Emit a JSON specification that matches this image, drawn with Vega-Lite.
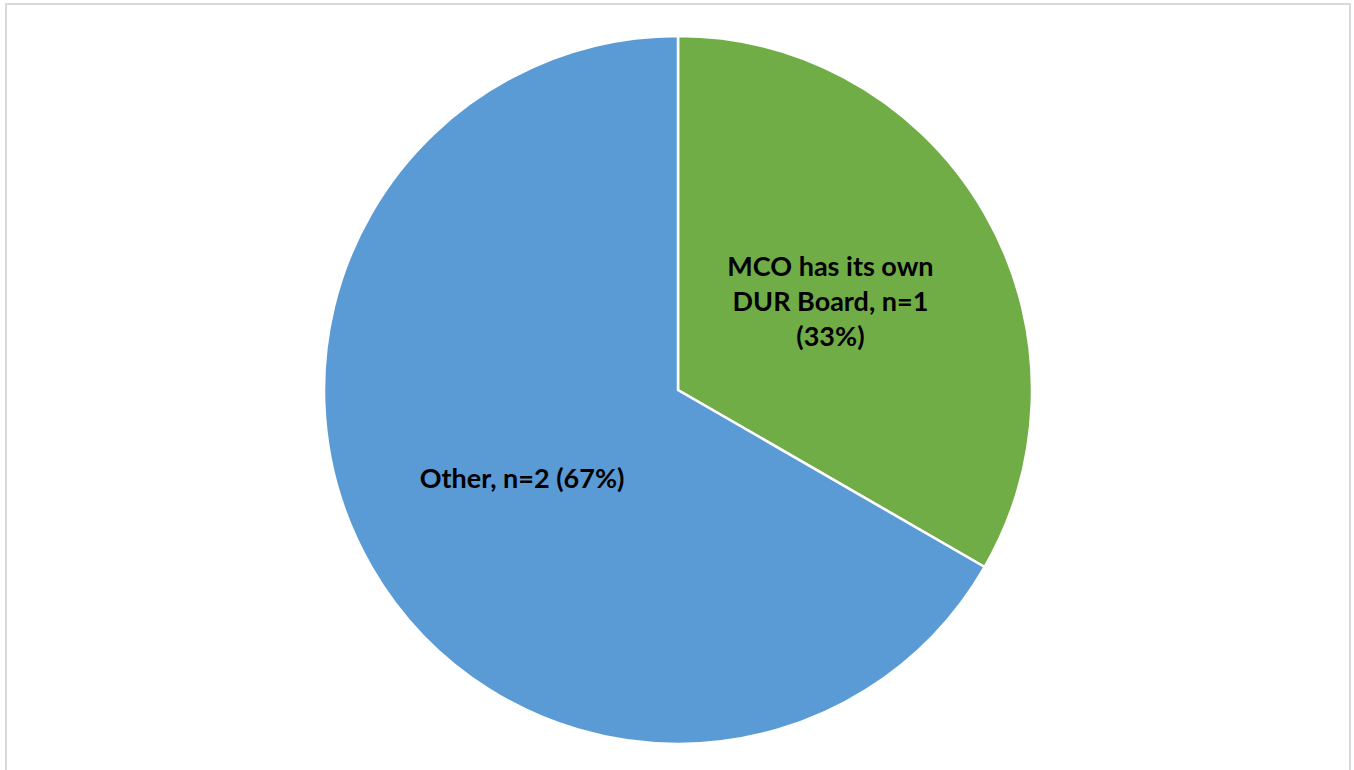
{
  "$schema": "https://vega.github.io/schema/vega-lite/v6.json",
  "autosize": {"type": "none"},
  "width": 1344,
  "height": 772,
  "padding": {"left": 6, "top": 4, "right": 4, "bottom": 0},
  "background": "white",
  "config": {"view": {"stroke": null}},
  "data": {
    "values": [
      {"category": "MCO has its own DUR Board", "n": 1, "label": "MCO has its own\nDUR Board, n=1\n(33%)", "order": 1},
      {"category": "Other", "n": 2, "label": "Other, n=2 (67%)", "order": 2}
    ]
  },
  "layer": [
    {
      "mark": {"type": "rect", "filled": false, "stroke": "#d9d9d9", "strokeWidth": 2},
      "encoding": {}
    },
    {
      "mark": {"type": "arc", "outerRadius": 354, "stroke": "white", "strokeWidth": 2.5},
      "encoding": {
        "theta": {"field": "n", "type": "quantitative", "stack": true},
        "order": {"field": "order", "type": "quantitative"},
        "color": {
          "field": "category",
          "type": "nominal",
          "scale": {"domain": ["MCO has its own DUR Board", "Other"], "range": ["#70AD47", "#5B9BD5"]},
          "legend": null
        }
      }
    },
    {
      "mark": {"type": "text", "radius": 176, "dy": -34, "font": "Lato", "fontWeight": "bold", "fontSize": 27, "lineHeight": 35, "align": "center", "baseline": "middle", "color": "black", "lineBreak": "\n"},
      "encoding": {
        "theta": {"field": "n", "type": "quantitative", "stack": true},
        "order": {"field": "order", "type": "quantitative"},
        "text": {"condition": {"test": "datum.category === 'MCO has its own DUR Board'", "field": "label"}, "value": ""}
      }
    },
    {
      "mark": {"type": "text", "radius": 180, "dy": 0, "font": "Lato", "fontWeight": "bold", "fontSize": 27, "align": "center", "baseline": "middle", "color": "black"},
      "encoding": {
        "theta": {"field": "n", "type": "quantitative", "stack": true},
        "order": {"field": "order", "type": "quantitative"},
        "text": {"condition": {"test": "datum.category === 'Other'", "field": "label"}, "value": ""}
      }
    }
  ]
}
